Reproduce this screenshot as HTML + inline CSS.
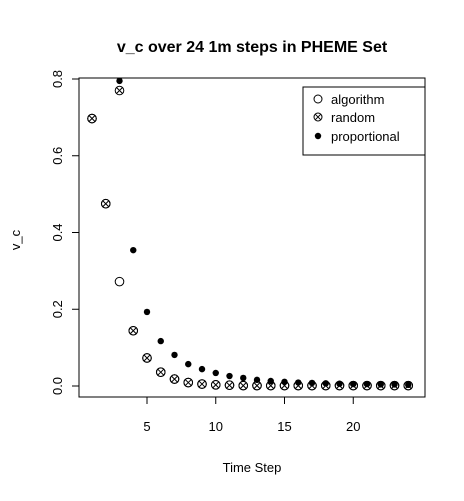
<!DOCTYPE html>
<html><head><meta charset="utf-8"><style>
body{margin:0;background:#fff;}
svg{font-family:"Liberation Sans",sans-serif;}
</style></head><body>
<svg id="chart" width="464" height="496" viewBox="0 0 464 496">
<text x="252" y="52" text-anchor="middle" font-size="16" font-weight="bold">v_c over 24 1m steps in PHEME Set</text>
<rect x="79" y="78" width="346" height="319" fill="none" stroke="#000"/>
<text x="252" y="472" text-anchor="middle" font-size="13">Time Step</text>
<text x="0" y="0" transform="translate(20,240) rotate(-90)" text-anchor="middle" font-size="13">v_c</text>
<g id="axes"></g>
<g id="marks"></g>
<g>
<rect x="303" y="87" width="122" height="68" fill="#fff" stroke="#000"/>
<circle cx="318" cy="99" r="4" fill="none" stroke="#000"/>
<text x="331" y="104" font-size="13">algorithm</text>
<circle cx="318" cy="117" r="4" fill="none" stroke="#000"/>
<path d="M315.2 114.2L320.8 119.8M320.8 114.2L315.2 119.8" stroke="#000"/>
<text x="331" y="122" font-size="13">random</text>
<circle cx="318" cy="136" r="3.2" fill="#000"/>
<text x="331" y="141" font-size="13">proportional</text>
</g>
</svg>
<script>
const steps=[1,2,3,4,5,6,7,8,9,10,11,12,13,14,15,16,17,18,19,20,21,22,23,24];
const algorithm=[0.697,0.475,0.272,0.144,0.073,0.036,0.018,0.009,0.005,0.003,0.002,0.001,0.001,0.001,0.001,0.001,0.001,0.001,0.001,0.001,0.001,0.001,0.001,0.001];
const random=[0.697,0.475,0.77,0.144,0.073,0.036,0.018,0.009,0.005,0.003,0.002,0.001,0.001,0.001,0.001,0.001,0.001,0.001,0.001,0.001,0.001,0.001,0.001,0.001];
const proportional=[null,null,0.795,0.354,0.193,0.117,0.081,0.057,0.044,0.034,0.026,0.021,0.016,0.013,0.011,0.009,0.008,0.007,0.006,0.005,0.005,0.004,0.004,0.003];
const xTicks=[5,10,15,20];
const yTicks=[0.0,0.2,0.4,0.6,0.8];
const yTickLabels=["0.0","0.2","0.4","0.6","0.8"];
const NS="http://www.w3.org/2000/svg";
const xs=v=>92+(v-1)*13.75;
const ys=v=>386-v*383.75;
const axes=document.getElementById('axes'),marks=document.getElementById('marks');
function mk(t,a,p){const e=document.createElementNS(NS,t);for(const k in a)e.setAttribute(k,a[k]);p.appendChild(e);return e;}
mk('line',{x1:xs(5),x2:xs(20),y1:397,y2:397,stroke:'#000'},axes);
mk('line',{x1:79,x2:79,y1:ys(0),y2:ys(0.8),stroke:'#000'},axes);
xTicks.forEach(v=>{
 const l=mk('line',{x1:xs(v),x2:xs(v),y1:397,y2:404,stroke:'#000'},axes);
 
 
 const t=mk('text',{x:xs(v),y:431,'text-anchor':'middle','font-size':'13'},axes);
 t.textContent=v;
 
 
});
yTicks.forEach((v,i)=>{
 const l=mk('line',{x1:72,x2:79,y1:ys(v),y2:ys(v),stroke:'#000'},axes);
 
 
 const t=mk('text',{x:0,y:0,transform:`translate(62,${ys(v)}) rotate(-90)`,'text-anchor':'middle','font-size':'13'},axes);
 t.textContent=yTickLabels[i];
 
 
});
steps.forEach((s,i)=>{
 const x=xs(s);
 if(algorithm[i]!=null){
  const c=mk('circle',{cx:x,cy:ys(algorithm[i]),r:4.3,fill:'none',stroke:'#000'},marks);
  
  
 }
 if(random[i]!=null){
  const y=ys(random[i]);
  const g=mk('g',{},marks);
  
  
  mk('circle',{cx:x,cy:y,r:4.3,fill:'none',stroke:'#000'},g);
  mk('path',{d:`M${x-3} ${y-3}L${x+3} ${y+3}M${x+3} ${y-3}L${x-3} ${y+3}`,stroke:'#000'},g);
 }
 if(proportional[i]!=null){
  const c=mk('circle',{cx:x,cy:ys(proportional[i]),r:3.2,fill:'#000'},marks);
  
  
 }
});
</script>
</body></html>
